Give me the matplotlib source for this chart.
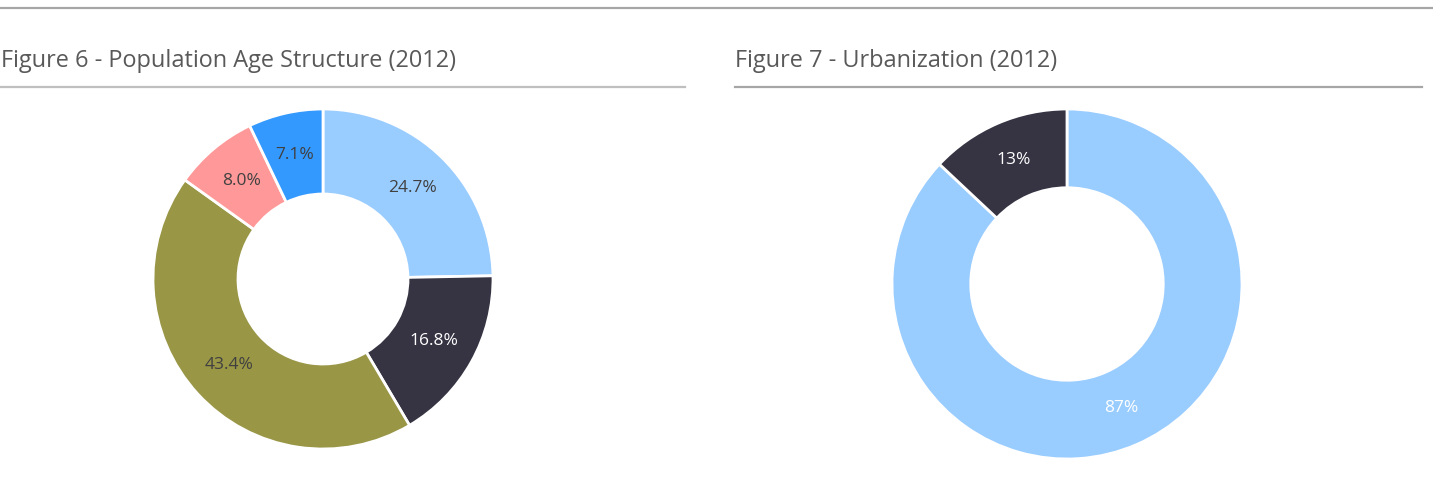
import matplotlib.pyplot as plt
from matplotlib.lines import Line2D

W, H = 1433, 492

# Figure 6 - age structure
age_values = [24.7, 16.8, 43.4, 8.0, 7.1]
age_labels = ['24.7%', '16.8%', '43.4%', '8.0%', '7.1%']
age_colors = ['#99ccff', '#363343', '#999646', '#ff9999', '#3399ff']
age_text = ['#404040', 'white', '#404040', '#404040', '#404040']

# Figure 7 - urbanization
urb_values = [87, 13]
urb_labels = ['87%', '13%']
urb_colors = ['#99ccff', '#363343']
urb_text = ['white', 'white']

plt.rcParams['font.family'] = ['Open Sans', 'DejaVu Sans']

fig = plt.figure(figsize=(W / 100, H / 100), dpi=100)


def px_axes(cx, cy, r):
    # square axes centred on pixel (cx, cy), y measured from the top
    return fig.add_axes([(cx - r) / W, 1 - (cy + r) / H, 2 * r / W, 2 * r / H])


def donut(ax, values, labels, colors, text_colors, hole):
    wedges, texts = ax.pie(values, colors=colors, startangle=90, counterclock=False,
                           labels=labels, labeldistance=(1 + hole) / 2,
                           wedgeprops=dict(width=1 - hole, edgecolor='white', linewidth=2))
    for w in wedges:
        w.set_clip_on(False)
    for t, c in zip(texts, text_colors):
        t.set_color(c)
        t.set_fontsize(12.5)
        t.set_ha('center')
        t.set_va('center')
    ax.set_xlim(-1, 1)
    ax.set_ylim(-1, 1)
    ax.set_aspect('equal')
    ax.axis('off')


donut(px_axes(323, 279, 170), age_values, age_labels, age_colors, age_text, 0.5)
donut(px_axes(1067, 284, 175), urb_values, urb_labels, urb_colors, urb_text, 0.55)

# header rules and titles
def hline(x0, x1, y, color, lw):
    fig.add_artist(Line2D([x0 / W, x1 / W], [1 - y / H, 1 - y / H],
                          color=color, linewidth=lw))


hline(0, W, 8, '#a6a6a6', 1.6)
hline(0, 685, 87, '#bfbfbf', 1.6)
hline(735, 1422, 87, '#a6a6a6', 1.6)

fig.text(1 / W, 1 - 67 / H, 'Figure 6 - Population Age Structure (2012)',
         fontsize=16.9, color='#595959', va='baseline', ha='left')
fig.text(735 / W, 1 - 67 / H, 'Figure 7 - Urbanization (2012)',
         fontsize=16.9, color='#595959', va='baseline', ha='left')

fig.savefig('out.png', dpi=100)
